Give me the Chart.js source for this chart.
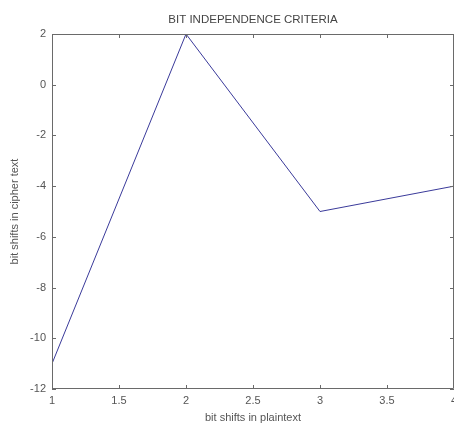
<!DOCTYPE html>
<html>
<head>
<meta charset="utf-8">
<script src="https://cdn.jsdelivr.net/npm/chart.js@4/dist/chart.umd.min.js"></script>
<style>
  html, body { margin: 0; padding: 0; background: #fff; }
  #wrap { width: 454px; height: 425px; }
</style>
</head>
<body>
<div id="wrap"><canvas id="c" width="454" height="425"></canvas></div>
<script>
const titleText = "BIT INDEPENDENCE CRITERIA";
const xTitle = "bit shifts in plaintext";
const yTitle = "bit shifts in cipher text";
const xValues = [1, 2, 3, 4];
const yValues = [-11, 2, -5, -4];
const xTicks = [1, 1.5, 2, 2.5, 3, 3.5, 4];
const yTicks = [-12, -10, -8, -6, -4, -2, 0, 2];

const axisColor = '#6a6a6a';
const textColor = '#555555';
const fontFamily = "'Liberation Sans', Arial, sans-serif";

const boxTicks = {
  id: 'boxTicks',
  afterDatasetsDraw(chart) {
    const {ctx, chartArea: a, scales: {x, y}} = chart;
    ctx.save();
    ctx.strokeStyle = axisColor;
    ctx.lineWidth = 1;
    ctx.beginPath();
    ctx.rect(Math.round(a.left) + 0.5, Math.round(a.top) + 0.5,
             Math.round(a.right - a.left) - 1, Math.round(a.bottom - a.top) - 1);
    ctx.stroke();
    const L = 4;
    ctx.beginPath();
    xTicks.forEach(v => {
      const px = Math.round(x.getPixelForValue(v)) + 0.5;
      ctx.moveTo(px, a.bottom); ctx.lineTo(px, a.bottom - L);
      ctx.moveTo(px, a.top); ctx.lineTo(px, a.top + L);
    });
    yTicks.forEach(v => {
      const py = Math.round(y.getPixelForValue(v)) + 0.5;
      ctx.moveTo(a.left, py); ctx.lineTo(a.left + L, py);
      ctx.moveTo(a.right, py); ctx.lineTo(a.right - L, py);
    });
    ctx.stroke();
    ctx.restore();
  }
};

new Chart(document.getElementById('c'), {
  type: 'line',
  data: {
    datasets: [{
      data: xValues.map((v, i) => ({x: v, y: yValues[i]})),
      borderColor: '#3a3a9a',
      borderWidth: 1,
      pointRadius: 0,
      tension: 0,
      fill: false
    }]
  },
  options: {
    responsive: false,
    animation: false,
    devicePixelRatio: 1,
    layout: { padding: { left: 0, right: 0, top: 0, bottom: 0 } },
    plugins: {
      legend: { display: false },
      tooltip: { enabled: false },
      title: { display: false }
    },
    scales: {
      x: {
        type: 'linear',
        min: 1, max: 4,
        afterBuildTicks: s => { s.ticks = xTicks.map(v => ({value: v})); },
        afterFit: s => { s.height = 36; s.paddingLeft = 0; s.paddingRight = 0; },
        border: { display: false },
        grid: { display: false, drawTicks: false },
        ticks: {
          padding: 5,
          color: textColor,
          maxRotation: 0,
          autoSkip: false,
          font: { family: fontFamily, size: 11 },
          callback: v => String(v)
        },
        title: {
          display: true,
          text: xTitle,
          color: textColor,
          font: { family: fontFamily, size: 11 },
          padding: { top: 0, bottom: 0 }
        }
      },
      xTop: {
        type: 'linear',
        position: 'top',
        min: 1, max: 4,
        afterFit: s => { s.height = 34; s.paddingLeft = 0; s.paddingRight = 0; },
        border: { display: false },
        grid: { display: false, drawTicks: false },
        ticks: { display: false },
        title: {
          display: true,
          text: titleText,
          color: '#444',
          font: { family: fontFamily, size: 11.5 },
          padding: { top: 13.1, bottom: 0 }
        }
      },
      y: {
        type: 'linear',
        min: -12, max: 2,
        afterBuildTicks: s => { s.ticks = yTicks.map(v => ({value: v})); },
        afterFit: s => { s.width = 52; s.paddingTop = 0; s.paddingBottom = 0; },
        border: { display: false },
        grid: { display: false, drawTicks: false },
        ticks: {
          padding: 6,
          color: textColor,
          autoSkip: false,
          font: { family: fontFamily, size: 11 },
          callback: v => String(v)
        },
        title: {
          display: true,
          text: yTitle,
          color: textColor,
          font: { family: fontFamily, size: 11 },
          padding: { top: 8, bottom: 0 }
        }
      }
    }
  },
  plugins: [boxTicks]
});
</script>
</body>
</html>
